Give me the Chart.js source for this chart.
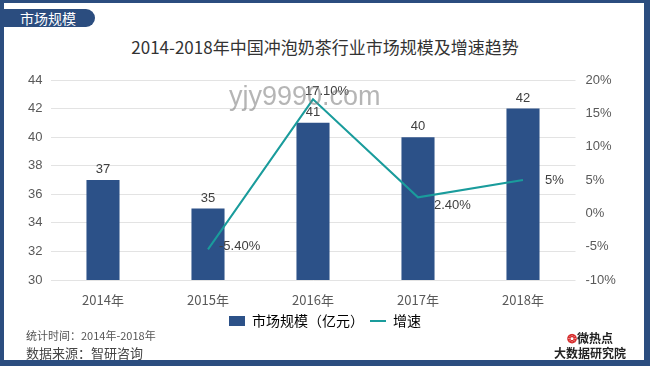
<!DOCTYPE html>
<html>
<head>
<meta charset="utf-8">
<script src="https://cdn.jsdelivr.net/npm/chart.js@4/dist/chart.umd.min.js"></script>
<style>
  html, body { margin: 0; padding: 0; }
  body { width: 650px; height: 366px; position: relative; overflow: hidden; background: #2b4d7f;
         font-family: "Microsoft YaHei", "Noto Sans CJK SC", sans-serif; }
  #panel { position: absolute; left: 4px; top: 3px; width: 640px; height: 357px; background: #fff; }
  #tab { position: absolute; left: 0; top: 9px; width: 95px; height: 18px; background: #2b4d7f;
         border-radius: 0 9px 9px 0; color: #fff; font-size: 14px; line-height: 18px; padding-left: 20px; box-sizing: border-box; }
  #title { position: absolute; left: 0; width: 650px; top: 34px; text-align: center; font-size: 17px; color: #333; }
  #wrap { position: absolute; left: 0; top: 0; width: 650px; height: 366px; }
  #note1 { position: absolute; left: 26px; top: 327px; font-size: 11px; color: #555; }
  #note2 { position: absolute; left: 26px; top: 343px; font-size: 13px; color: #444; }
  #logo { position: absolute; left: 590px; top: 330px; font-size: 12px; font-weight: bold; color: #222; text-align: center; line-height: 15px; transform: translateX(-50%); white-space: nowrap; }
  #logo .r { color: #d62b2b; }
  #mark { position: absolute; left: 229px; top: 81px; font-size: 27px; color: rgba(120,120,120,0.55); font-family: Arial, "Liberation Sans", sans-serif; }
</style>
</head>
<body>
<div id="panel"></div>
<div id="tab">市场规模</div>
<div id="title">2014-2018年中国冲泡奶茶行业市场规模及增速趋势</div>
<div id="wrap"><canvas id="chart" width="650" height="366"></canvas></div>
<div id="note1">统计时间：2014年-2018年</div>
<div id="note2">数据来源：智研咨询</div>
<div id="logo"><span class="r">❂</span>微热点<br>大数据研究院</div>
<div id="mark">yjy9990.com</div>
<script>
// 数据
const years = ["2014年", "2015年", "2016年", "2017年", "2018年"];
const scale = [37, 35, 41, 40, 42];
const growth = [null, -5.4, 17.1, 2.4, 5];
const growthText = ["", "-5.40%", "17.10%", "2.40%", "5%"];

// 数据标签
const valueLabels = {
  id: "valueLabels",
  afterDatasetsDraw(chart) {
    const ctx = chart.ctx;
    ctx.save();
    ctx.font = "13px 'Liberation Sans', Arial, sans-serif";
    ctx.fillStyle = "#404040";
    ctx.textAlign = "center";
    ctx.textBaseline = "bottom";
    chart.getDatasetMeta(0).data.forEach((bar, i) => {
      ctx.fillText(scale[i], bar.x, bar.y - 4);
    });
    const pts = chart.getDatasetMeta(1).data;
    const dx = [0, 11, 14, 16, 22];
    const dy = [0, -3, -8, 8, 0];
    ctx.textBaseline = "middle";
    pts.forEach((p, i) => {
      if (growth[i] === null) return;
      ctx.textAlign = i === 2 ? "center" : "left";
      ctx.fillText(growthText[i], p.x + dx[i], p.y + dy[i]);
    });
    ctx.restore();
  }
};

new Chart(document.getElementById("chart"), {
  type: "bar",
  data: {
    labels: years,
    datasets: [{
      label: "市场规模（亿元）",
      data: scale,
      backgroundColor: "#2c5188",
      barPercentage: 0.63,
      categoryPercentage: 0.5,
      yAxisID: "y",
      order: 2
    }, {
      type: "line",
      label: "增速",
      data: growth,
      borderColor: "#1a9c9c",
      backgroundColor: "#1a9c9c",
      borderWidth: 2,
      pointRadius: 0,
      tension: 0,
      yAxisID: "y1",
      order: 1
    }]
  },
  options: {
    responsive: false,
    animation: false,
    layout: { padding: { top: 80, bottom: 28 } },
    plugins: {
      legend: {
        position: "bottom",
        labels: {
          color: "#444",
          font: { size: 14, family: "'Noto Sans CJK SC', sans-serif" },
          usePointStyle: true,
          pointStyleWidth: 16,
          boxHeight: 10,
          padding: 6,
          generateLabels(chart) {
            return chart.data.datasets.map((d, i) => ({
              text: d.label,
              fillStyle: d.backgroundColor,
              strokeStyle: d.borderColor || d.backgroundColor,
              lineWidth: i === 1 ? 2 : 0,
              pointStyle: i === 1 ? "line" : "rect",
              datasetIndex: i
            }));
          }
        }
      },
      tooltip: { enabled: false }
    },
    scales: {
      x: {
        grid: { display: false },
        border: { display: false },
        ticks: { color: "#595959", font: { size: 13, family: "'Noto Sans CJK SC', sans-serif" }, padding: 4 },
        afterFit(s) { s.height = 28; }
      },
      y: {
        position: "left",
        min: 30, max: 44,
        ticks: { stepSize: 2, color: "#595959", font: { size: 13, family: "'Liberation Sans', Arial, sans-serif" }, padding: 8 },
        grid: { color: "#e3e3e3", drawTicks: false },
        border: { display: false },
        afterFit(s) { s.width = 50.5; }
      },
      y1: {
        position: "right",
        min: -10, max: 20,
        ticks: { stepSize: 5, color: "#595959", font: { size: 13, family: "'Liberation Sans', Arial, sans-serif" }, padding: 10,
                 callback: v => v + "%" },
        grid: { display: false, drawTicks: false },
        border: { display: false },
        afterFit(s) { s.width = 74.5; }
      }
    }
  },
  plugins: [valueLabels]
});
</script>
</body>
</html>
